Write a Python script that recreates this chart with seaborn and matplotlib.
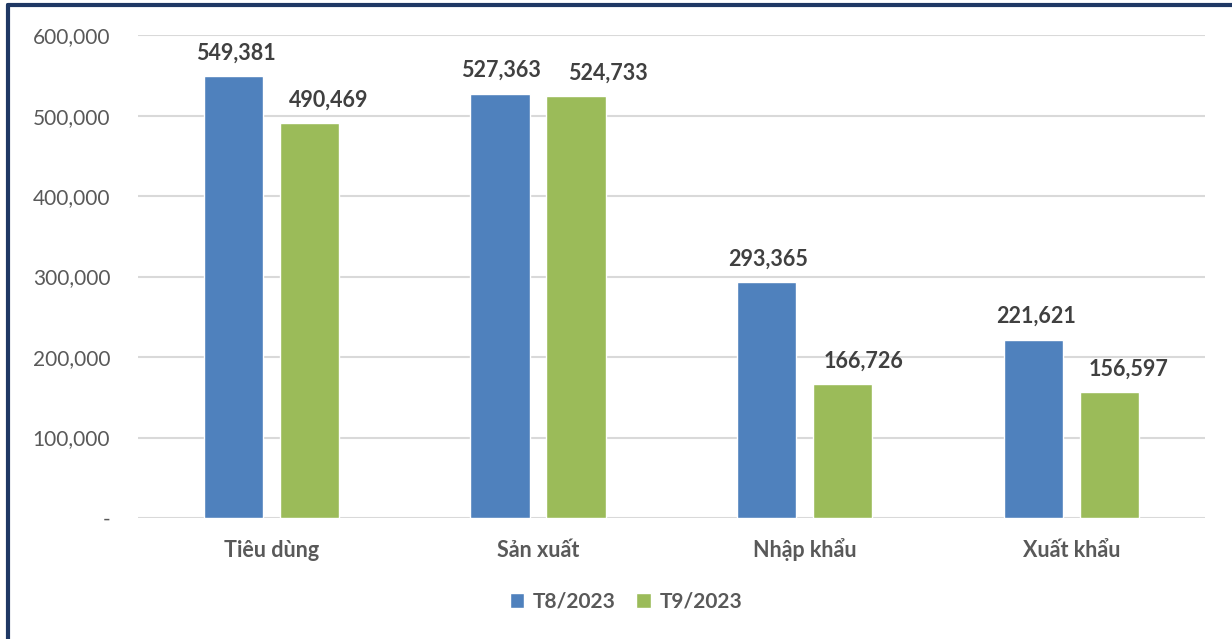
import pandas as pd
import numpy as np
import matplotlib
matplotlib.use("Agg")
import matplotlib.pyplot as plt
import seaborn as sns
from matplotlib.lines import Line2D
from matplotlib.ticker import FuncFormatter

# --- Datos ---
categorias = ["Tiêu dùng", "Sản xuất", "Nhập khẩu", "Xuất khẩu"]
series = ["T8/2023", "T9/2023"]
t8 = [549381, 527363, 293365, 221621]
t9 = [490469, 524733, 166726, 156597]
colores = ["#4F81BD", "#9BBB59"]

# desplazamiento horizontal de las etiquetas (puntos), como en el original
desplaz = {"T8/2023": [2, 1, 1, 2], "T9/2023": [14, 23, 15, 14]}

df = pd.DataFrame({
    "categoria": categorias * 2,
    "serie": [series[0]] * 4 + [series[1]] * 4,
    "valor": t8 + t9,
})

sns.set_theme(style="white")
plt.rcParams["font.family"] = ["Lato", "Noto Sans", "DejaVu Sans"]

fig = plt.figure(figsize=(12.32, 6.39), dpi=100)
ax = fig.add_axes([0.112, 0.1894, 0.866, 0.7556])

sns.barplot(data=df, x="categoria", y="valor", hue="serie", order=categorias,
            hue_order=series, palette=colores, width=0.57, gap=0.22,
            saturation=1, ax=ax, legend=True)

ax.set_ylim(0, 600000)
ax.set_yticks(np.arange(0, 600001, 100000))
ax.yaxis.set_major_formatter(FuncFormatter(lambda v, p: "-" if v == 0 else f"{int(v):,}"))
ax.grid(axis="y", color="#D9D9D9", linewidth=1.5)
ax.set_axisbelow(True)
for s in ax.spines.values():
    s.set_visible(False)
ax.set_xlabel("")
ax.set_ylabel("")
ax.tick_params(axis="y", labelsize=15, colors="#595959", pad=20, length=0)
ax.tick_params(axis="x", labelsize=15.5, colors="#595959", pad=28, length=0)
plt.setp(ax.get_xticklabels(), fontweight="bold", va="baseline")

# --- Etiquetas de datos ---
for cont, serie in zip(ax.containers, series):
    for barra, v, dx in zip(cont, cont.datavalues, desplaz[serie]):
        ax.annotate(f"{int(v):,}", (barra.get_x() + barra.get_width() / 2, barra.get_height()),
                    xytext=(dx, 9), textcoords="offset points", ha="center", va="bottom",
                    fontsize=15.5, fontweight="bold", color="#404040")

# --- Leyenda ---
handles, labels = ax.get_legend_handles_labels()
leg = fig.legend(handles, labels, loc="center", bbox_to_anchor=(0.508, 0.058), ncol=2,
                 frameon=False, handlelength=0.7, handleheight=0.7, handletextpad=0.4,
                 columnspacing=1.0, prop={"size": 15, "weight": "bold"})
ax.get_legend().remove()
for t in leg.get_texts():
    t.set_color("#595959")

# --- Borde ---
fig.add_artist(Line2D([0.0065, 1.0], [0.992, 0.992], transform=fig.transFigure,
                      color="#1F3864", linewidth=3))
fig.add_artist(Line2D([0.0065, 0.0065], [0.0, 0.992], transform=fig.transFigure,
                      color="#1F3864", linewidth=3))

plt.savefig("out.png", dpi=100)
